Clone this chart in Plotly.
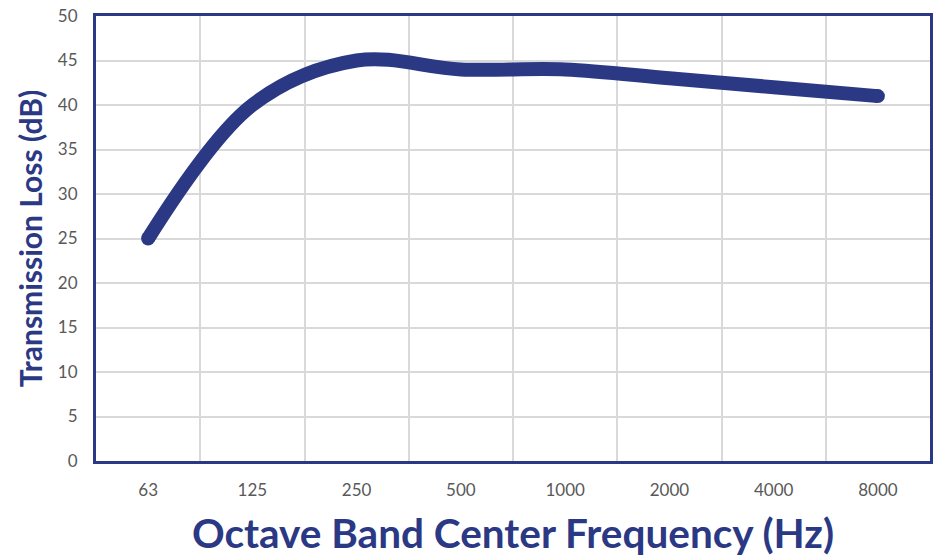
import plotly.graph_objects as go

frequencies = ["63", "125", "250", "500", "1000", "2000", "4000", "8000"]
transmission_loss = [25, 40, 45, 44, 44, 43, 42, 41]
y_ticks = [0, 5, 10, 15, 20, 25, 30, 35, 40, 45, 50]

navy = "#2B3984"
font_fam = "Lato, Open Sans, sans-serif"

fig = go.Figure()
fig.add_trace(go.Scatter(
    x=frequencies, y=transmission_loss, mode="lines",
    line=dict(color=navy, width=14, shape="spline", smoothing=1.0),
    showlegend=False, hoverinfo="skip",
))
# round caps at the line ends
fig.add_trace(go.Scatter(
    x=[frequencies[0], frequencies[-1]],
    y=[transmission_loss[0], transmission_loss[-1]],
    mode="markers", marker=dict(color=navy, size=14, line=dict(width=0)),
    showlegend=False, hoverinfo="skip",
))

fig.update_layout(
    width=933, height=557,
    margin=dict(l=96, r=3, t=16, b=96, autoexpand=False),
    paper_bgcolor="white", plot_bgcolor="white",
    font=dict(family=font_fam, color="#595959", size=16),
    xaxis=dict(
        type="category", tickson="boundaries", showgrid=True,
        range=[-0.5, len(frequencies) - 0.5], automargin=False,
        gridcolor="#D9D9D9", gridwidth=2,
        showline=True, linecolor=navy, linewidth=3, mirror=True,
        ticks="", ticklabelstandoff=12,
        tickfont=dict(size=17, color="#595959"),
        title=dict(text="Octave Band Center Frequency (Hz)",
                   font=dict(size=40.5, color=navy, family=font_fam, weight="bold"),
                   standoff=22),
    ),
    yaxis=dict(
        range=[0, 50], tickvals=y_ticks, showgrid=True, automargin=False,
        gridcolor="#D9D9D9", gridwidth=2,
        showline=True, linecolor=navy, linewidth=3, mirror=True,
        ticks="", ticklabelstandoff=12, zeroline=False,
        tickfont=dict(size=17, color="#595959"),
        title=dict(text="Transmission Loss (dB)",
                   font=dict(size=30, color=navy, family=font_fam, weight="bold"),
                   standoff=7),
    ),
)

fig.write_html(
    "out.html",
    config={"displayModeBar": False},
    post_script="document.body.style.margin='0';document.body.style.overflow='hidden';",
)
